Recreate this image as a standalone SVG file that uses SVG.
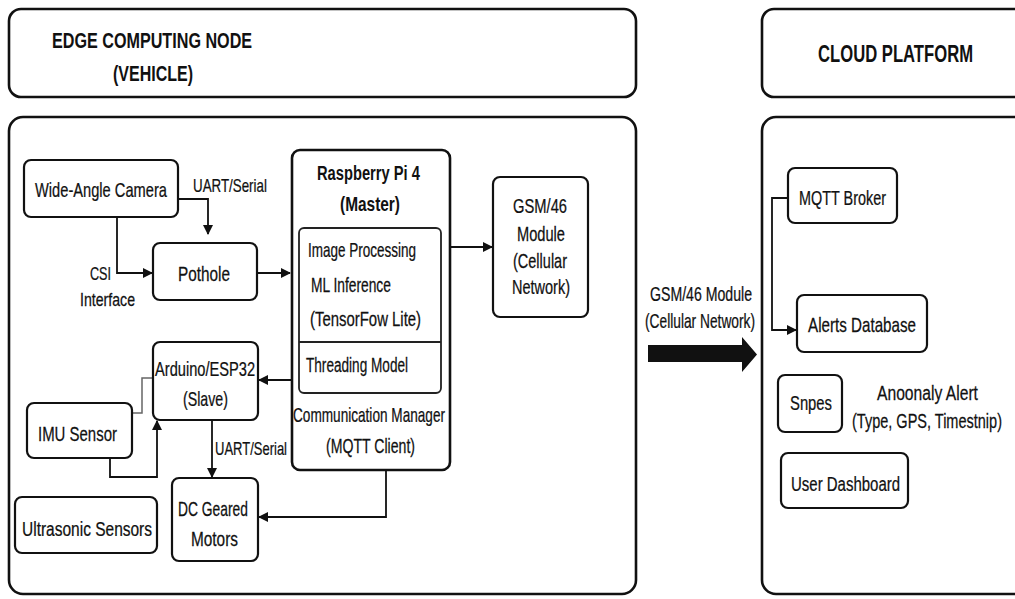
<svg xmlns="http://www.w3.org/2000/svg" width="1015" height="599" viewBox="0 0 1015 599">
<style>
text{font-family:"Liberation Sans",Arial,sans-serif;fill:#111;font-size:21px;stroke:#111;stroke-width:0.25}
.f20{font-size:20px}
.f19{font-size:19px}
.f18{font-size:18px}
.b{font-weight:bold;stroke-width:0}
.h{font-weight:bold;font-size:22px;stroke-width:0}
.frame{fill:#fff;stroke:#111;stroke-width:2.6}
.box{fill:#fff;stroke:#111;stroke-width:2.2}
.inner{fill:#fff;stroke:#222;stroke-width:1.8}
.conn{fill:none;stroke:#111;stroke-width:1.8}
.thin{fill:none;stroke:#666;stroke-width:1.5}
</style>
<defs>
<marker id="ah" markerWidth="10" markerHeight="10" refX="9" refY="5" orient="auto" markerUnits="userSpaceOnUse">
<path d="M0,0 L10,5 L0,10 Z" fill="#111"/>
</marker>
</defs>
<rect width="1015" height="599" fill="#fff"/>

<g id="header-edge">
<rect class="frame" x="9" y="9" width="627" height="88" rx="12"/>
<text class="h" transform="translate(52,48) scale(0.734,1)" textLength="272.6" lengthAdjust="spacingAndGlyphs">EDGE COMPUTING NODE</text>
<text class="h" transform="translate(113,81) scale(0.727,1)" textLength="110" lengthAdjust="spacingAndGlyphs">(VEHICLE)</text>
</g>
<g id="header-cloud">
<rect class="frame" x="762" y="9" width="270" height="88" rx="12"/>
<text class="h" style="font-size:23px" transform="translate(818,62) scale(0.718,1)" textLength="215.9" lengthAdjust="spacingAndGlyphs">CLOUD PLATFORM</text>
</g>
<g id="panel-edge"><rect class="frame" x="9" y="117" width="627" height="477" rx="14"/></g>
<g id="panel-cloud"><rect class="frame" x="762" y="117" width="270" height="477" rx="14"/></g>

<g id="connectors">
<path class="conn" d="M178,199 H208 V234" marker-end="url(#ah)"/>
<path class="conn" d="M117,217 V273 H152" marker-end="url(#ah)"/>
<path class="conn" d="M257,273 H290" marker-end="url(#ah)"/>
<path class="conn" d="M450,247 H492" marker-end="url(#ah)"/>
<path class="conn" d="M292,380 H259" marker-end="url(#ah)"/>
<path class="thin" d="M132,413 H142 V378 H153"/>
<path class="conn" d="M110,458 V477 H157 V421" marker-end="url(#ah)"/>
<path class="conn" d="M212,420 V477" marker-end="url(#ah)"/>
<path class="conn" d="M386,470 V517 H259" marker-end="url(#ah)"/>
<path class="conn" d="M788,198 H772 V330 H796" marker-end="url(#ah)"/>
<polygon points="648,345 742,345 742,337 757,354.5 742,372 742,362 648,362" fill="#111"/>
<text class="f19" transform="translate(193,192) scale(0.70,1)" textLength="105.6" lengthAdjust="spacingAndGlyphs">UART/Serial</text>
<text class="f18" transform="translate(90,280) scale(0.70,1)" textLength="30" lengthAdjust="spacingAndGlyphs">CSI</text>
<text class="f18" transform="translate(80,306) scale(0.786,1)" textLength="70" lengthAdjust="spacingAndGlyphs">Interface</text>
<text class="f19" transform="translate(215,455) scale(0.682,1)" textLength="105.6" lengthAdjust="spacingAndGlyphs">UART/Serial</text>
<text class="f20" transform="translate(650,301) scale(0.706,1)" textLength="144.5" lengthAdjust="spacingAndGlyphs">GSM/46 Module</text>
<text class="f20" transform="translate(645,328) scale(0.6875,1)" textLength="160" lengthAdjust="spacingAndGlyphs">(Cellular Network)</text>
</g>

<g id="camera">
<rect class="box" x="24" y="160" width="154" height="57" rx="7"/>
<text transform="translate(35,197) scale(0.698,1)" textLength="189" lengthAdjust="spacingAndGlyphs">Wide-Angle Camera</text>
</g>
<g id="pothole">
<rect class="box" x="153" y="243" width="104" height="57" rx="7"/>
<text transform="translate(178,281) scale(0.730,1)" textLength="71.2" lengthAdjust="spacingAndGlyphs">Pothole</text>
</g>
<g id="raspberry">
<rect class="frame" x="292" y="150" width="158" height="320" rx="8"/>
<text class="b f20" transform="translate(317,180) scale(0.735,1)" textLength="140.1" lengthAdjust="spacingAndGlyphs">Raspberry Pi 4</text>
<text class="b f20" transform="translate(340,211) scale(0.771,1)" textLength="77.8" lengthAdjust="spacingAndGlyphs">(Master)</text>
<rect class="inner" x="299" y="228" width="142" height="165" rx="5"/>
<line x1="299" y1="342" x2="441" y2="342" stroke="#222" stroke-width="1.8"/>
<text class="f20" transform="translate(308,257) scale(0.675,1)" textLength="160.1" lengthAdjust="spacingAndGlyphs">Image Processing</text>
<text class="f20" transform="translate(311,292) scale(0.685,1)" textLength="116.7" lengthAdjust="spacingAndGlyphs">ML Inference</text>
<text class="f20" transform="translate(310,326) scale(0.735,1)" textLength="151.1" lengthAdjust="spacingAndGlyphs">(TensorFow Lite)</text>
<text class="f20" transform="translate(306,372) scale(0.68,1)" textLength="150.1" lengthAdjust="spacingAndGlyphs">Threading Model</text>
<text class="f20" transform="translate(293,422) scale(0.6875,1)" textLength="221.1" lengthAdjust="spacingAndGlyphs">Communication Manager</text>
<text class="f20" transform="translate(326,453) scale(0.7025,1)" textLength="126.7" lengthAdjust="spacingAndGlyphs">(MQTT Client)</text>
</g>
<g id="gsm">
<rect class="box" x="493" y="177" width="95" height="140" rx="7"/>
<text class="f20" transform="translate(513,213) scale(0.736,1)" textLength="73.4" lengthAdjust="spacingAndGlyphs">GSM/46</text>
<text class="f20" transform="translate(517,241) scale(0.732,1)" textLength="65.6" lengthAdjust="spacingAndGlyphs">Module</text>
<text class="f20" transform="translate(513,268) scale(0.726,1)" textLength="74.4" lengthAdjust="spacingAndGlyphs">(Cellular</text>
<text class="f20" transform="translate(512,294) scale(0.725,1)" textLength="80" lengthAdjust="spacingAndGlyphs">Network)</text>
</g>
<g id="arduino">
<rect class="box" x="153" y="342" width="105" height="78" rx="7"/>
<text class="f20" transform="translate(155,376) scale(0.711,1)" textLength="140.7" lengthAdjust="spacingAndGlyphs">Arduino/ESP32</text>
<text class="f20" transform="translate(183,406) scale(0.711,1)" textLength="63.3" lengthAdjust="spacingAndGlyphs">(Slave)</text>
</g>
<g id="imu">
<rect class="box" x="27" y="403" width="105" height="55" rx="7"/>
<text transform="translate(38,441) scale(0.712,1)" textLength="110.9" lengthAdjust="spacingAndGlyphs">IMU Sensor</text>
</g>
<g id="motors">
<rect class="box" x="172" y="478" width="86" height="83" rx="7"/>
<text class="f20" transform="translate(178,516) scale(0.692,1)" textLength="101.1" lengthAdjust="spacingAndGlyphs">DC Geared</text>
<text class="f20" transform="translate(191,546) scale(0.769,1)" textLength="61.1" lengthAdjust="spacingAndGlyphs">Motors</text>
</g>
<g id="ultrasonic">
<rect class="box" x="15" y="497" width="142" height="56" rx="7"/>
<text transform="translate(22,536) scale(0.738,1)" textLength="176.2" lengthAdjust="spacingAndGlyphs">Ultrasonic Sensors</text>
</g>
<g id="mqtt-broker">
<rect class="box" x="788" y="168" width="109" height="55" rx="7"/>
<text transform="translate(799,205) scale(0.684,1)" textLength="127.2" lengthAdjust="spacingAndGlyphs">MQTT Broker</text>
</g>
<g id="alerts-db">
<rect class="box" x="797" y="295" width="130" height="57" rx="7"/>
<text transform="translate(808,332) scale(0.723,1)" textLength="149.4" lengthAdjust="spacingAndGlyphs">Alerts Database</text>
</g>
<g id="snpes">
<rect class="box" x="778" y="375" width="64" height="57" rx="7"/>
<text transform="translate(790,410) scale(0.706,1)" textLength="59.5" lengthAdjust="spacingAndGlyphs">Snpes</text>
</g>
<g id="anomaly">
<text transform="translate(877,400) scale(0.739,1)" textLength="136.6" lengthAdjust="spacingAndGlyphs">Anoonaly Alert</text>
<text transform="translate(852,428) scale(0.68,1)" textLength="220.6" lengthAdjust="spacingAndGlyphs">(Type, GPS, Timestnip)</text>
</g>
<g id="dashboard">
<rect class="box" x="781" y="453" width="127" height="55" rx="7"/>
<text transform="translate(791,491) scale(0.713,1)" textLength="152.9" lengthAdjust="spacingAndGlyphs">User Dashboard</text>
</g>
</svg>
